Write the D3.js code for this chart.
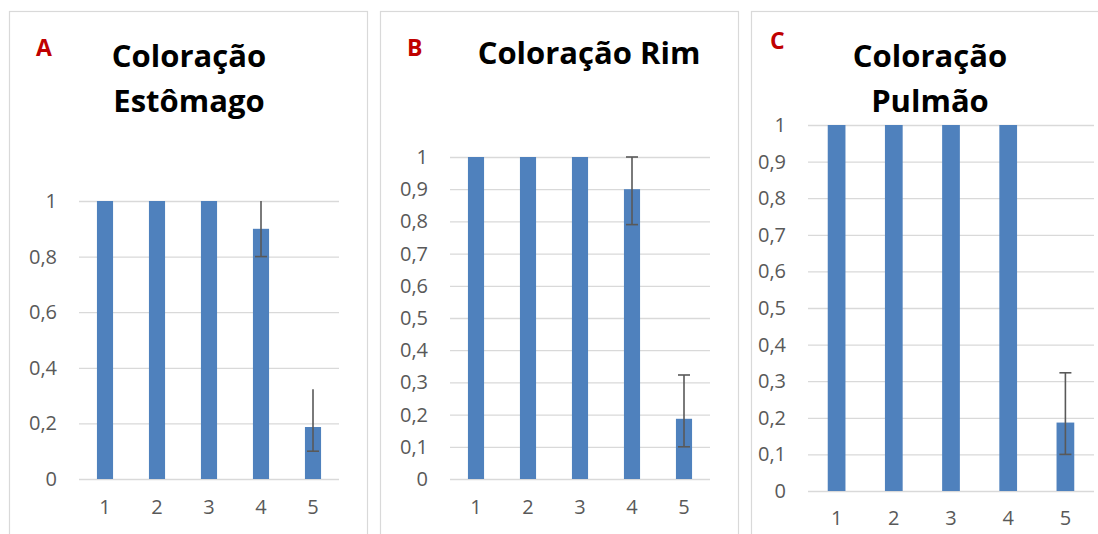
<!DOCTYPE html>
<html>
<head>
<meta charset="utf-8">
<script src="https://cdn.jsdelivr.net/npm/d3@7"></script>
<style>
  body { margin: 0; background: #fff; }
  svg { display: block; }
</style>
</head>
<body>
<svg id="chart" width="1098" height="534"></svg>
<script>
// Data
var categories = ["1", "2", "3", "4", "5"];

var valuesA  = [1, 1, 1, 0.9, 0.187];
var errLowA  = [null, null, null, 0.8, 0.10];
var errHighA = [null, null, null, 1.0, 0.323];
var ticksA   = [0, 0.2, 0.4, 0.6, 0.8, 1];

var valuesB  = [1, 1, 1, 0.9, 0.187];
var errLowB  = [null, null, null, 0.79, 0.10];
var errHighB = [null, null, null, 1.0, 0.323];
var ticksB   = [0, 0.1, 0.2, 0.3, 0.4, 0.5, 0.6, 0.7, 0.8, 0.9, 1];

var valuesC  = [1, 1, 1, 1, 0.187];
var errLowC  = [null, null, null, null, 0.10];
var errHighC = [null, null, null, null, 0.323];
var ticksC   = [0, 0.1, 0.2, 0.3, 0.4, 0.5, 0.6, 0.7, 0.8, 0.9, 1];

var titleA = ["Coloração", "Estômago"];
var titleB = ["Coloração Rim"];
var titleC = ["Coloração", "Pulmão"];

// Styles
var barColor = "#4f81bd",
    gridColor = "#d9d9d9",
    textColor = "#595959",
    errColor = "#595959",
    letterColor = "#c00000";

var svg = d3.select("#chart");
svg.append("rect").attr("width", 1098).attr("height", 534).attr("fill", "#fff");

// Format 0.2 -> "0,2"
var fmt = function(d) { return String(+d.toFixed(2)).replace(".", ","); };

function draw_panel(p) {
  var g = svg.append("g");

  // frame
  g.append("rect")
    .attr("x", p.box[0] + 0.5).attr("y", p.box[1] + 0.5)
    .attr("width", p.box[2]).attr("height", p.box[3])
    .attr("fill", "none").attr("stroke", gridColor).attr("stroke-width", 1.2);

  var x = d3.scaleBand()
    .domain(categories)
    .range([p.left, p.right])
    .paddingInner(0.69)
    .paddingOuter(0.345);

  var y = d3.scaleLinear()
    .domain([0, 1])
    .range([p.bottom, p.top]);

  // y axis with gridlines
  var yAxis = g.append("g")
    .attr("transform", "translate(" + p.left + ",0)")
    .call(d3.axisLeft(y)
      .tickValues(p.ticks)
      .tickSize(-(p.right - p.left))
      .tickPadding(22)
      .tickFormat(fmt));
  yAxis.select(".domain").remove();
  yAxis.selectAll(".tick line").attr("stroke", gridColor).attr("stroke-width", 1.3);
  yAxis.selectAll(".tick text")
    .attr("fill", textColor)
    .style("font-family", "'Open Sans', sans-serif")
    .style("font-size", "20px");

  // x axis labels
  var xAxis = g.append("g")
    .attr("transform", "translate(0," + p.bottom + ")")
    .call(d3.axisBottom(x).tickSize(0).tickPadding(p.xPad));
  xAxis.select(".domain").remove();
  xAxis.selectAll(".tick text")
    .attr("fill", textColor)
    .style("font-family", "'Open Sans', sans-serif")
    .style("font-size", "20px");

  // bars
  g.selectAll(".bar")
    .data(p.values)
    .enter()
    .append("rect")
      .attr("x", function(d, i) { return x(categories[i]); })
      .attr("y", function(d) { return y(d); })
      .attr("width", x.bandwidth())
      .attr("height", function(d) { return y(0) - y(d); })
      .attr("fill", barColor);

  // error bars
  var cap = 6;
  p.values.forEach(function(v, i) {
    if (p.errLow[i] == null) return;
    var cx = x(categories[i]) + x.bandwidth() / 2;
    var y0 = y(p.errLow[i]), y1 = y(p.errHigh[i]);
    g.append("line")
      .attr("x1", cx).attr("x2", cx).attr("y1", y0).attr("y2", y1)
      .attr("stroke", errColor).attr("stroke-width", 1.6);
    g.append("line")
      .attr("x1", cx - cap).attr("x2", cx + cap).attr("y1", y0).attr("y2", y0)
      .attr("stroke", errColor).attr("stroke-width", 1.6);
    if (p.capTop) {
      g.append("line")
        .attr("x1", cx - cap).attr("x2", cx + cap).attr("y1", y1).attr("y2", y1)
        .attr("stroke", errColor).attr("stroke-width", 1.6);
    }
  });

  // title
  var title = g.append("text")
    .attr("text-anchor", "middle")
    .attr("fill", "#000")
    .style("font-family", "'Open Sans', sans-serif")
    .style("font-weight", "bold")
    .style("font-size", "31px");
  p.title.forEach(function(line, i) {
    title.append("tspan")
      .attr("x", p.titleX)
      .attr("y", p.titleY + i * 45)
      .text(line);
  });

  // panel letter
  g.append("text")
    .attr("x", p.letterX).attr("y", p.letterY)
    .attr("fill", letterColor)
    .style("font-family", "'Open Sans', sans-serif")
    .style("font-weight", "bold")
    .style("font-size", "23px")
    .text(p.letter);
}

draw_panel({
  box: [9, 11, 358, 540], left: 79, right: 339, top: 201, bottom: 479,
  values: valuesA, errLow: errLowA, errHigh: errHighA, ticks: ticksA, capTop: false,
  title: titleA, titleX: 189, titleY: 67, letter: "A", letterX: 36, letterY: 56, xPad: 21
});
draw_panel({
  box: [380, 11, 358, 540], left: 450, right: 710, top: 157, bottom: 479,
  values: valuesB, errLow: errLowB, errHigh: errHighB, ticks: ticksB, capTop: true,
  title: titleB, titleX: 589, titleY: 64, letter: "B", letterX: 407, letterY: 56, xPad: 21
});
draw_panel({
  box: [751, 11, 400, 540], left: 808, right: 1094, top: 125, bottom: 491,
  values: valuesC, errLow: errLowC, errHigh: errHighC, ticks: ticksC, capTop: true,
  title: titleC, titleX: 930, titleY: 67, letter: "C", letterX: 770, letterY: 49, xPad: 20
});
</script>
</body>
</html>
